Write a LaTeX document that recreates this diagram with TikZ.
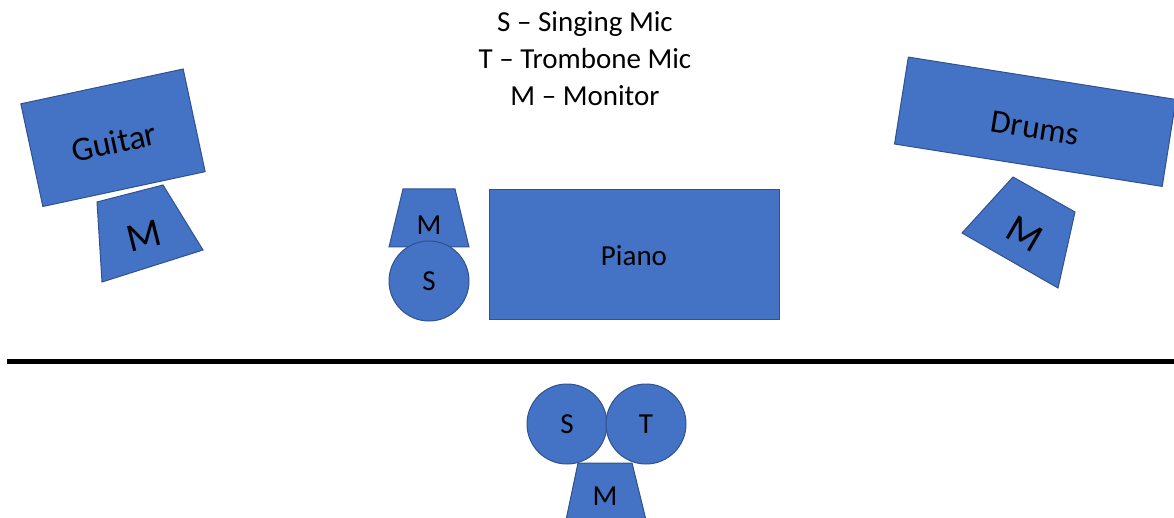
\documentclass[tikz,border=0pt]{standalone}
\usepackage{fontspec}
\setmainfont{Carlito}
\definecolor{fillblue}{HTML}{4472C4}
\definecolor{edgeblue}{HTML}{2F528F}
\begin{document}
\begin{tikzpicture}[x=1pt,y=-1pt,
  shp/.style={fill=fillblue,draw=edgeblue,line width=1pt},
  boxnode/.style={shp,rectangle,inner sep=0pt,font=\fontsize{30}{36}\selectfont},
  micnode/.style={shp,circle,minimum size=80pt,inner sep=0pt,font=\fontsize{29}{35}\selectfont},
  lbl/.style={inner sep=0pt,font=\fontsize{29}{35}\selectfont},
  titletext/.style={inner sep=0pt,anchor=base,font=\fontsize{29}{35}\selectfont}]
\useasboundingbox (0,0) rectangle (1174,518);
% legend
\node[titletext] (l1) at (585,32) {S – Singing Mic};
\node[titletext] (l2) at (585,69) {T – Trombone Mic};
\node[titletext] (l3) at (585,106) {M – Monitor};
% guitar
\node[boxnode,minimum width=166pt,minimum height=105pt,rotate=12.1] (guitar) at (113,137.75) {};
\node[lbl,rotate=12.1,font=\fontsize{34}{40}\selectfont] (guitartext) at (114,142) {Guitar};
\draw[shp] (97,202) -- (163,185) -- (203,250) -- (102,282) -- cycle;
\node[lbl,rotate=14,font=\fontsize{40}{46}\selectfont] (gm) at (144,236) {M};
% drums
\node[boxnode,minimum width=271pt,minimum height=88pt,rotate=-9] (drums) at (1035.25,121.75) {};
\node[lbl,rotate=-9,font=\fontsize{33}{40}\selectfont] (drumstext) at (1035,128) {Drums};
\draw[shp] (1013,177) -- (1075,212) -- (1058,288) -- (962,233) -- cycle;
\node[lbl,rotate=-30,font=\fontsize{40}{46}\selectfont] (dm) at (1025,234) {M};
% piano area
\node[boxnode,minimum width=290pt,minimum height=130pt,anchor=north west] (piano) at (489,189) {};
\node[lbl] (pianotext) at (634,256) {Piano};
\draw[shp] (403,189) -- (455,189) -- (469,247) -- (389,247) -- cycle;
\node[lbl] (pm) at (429,225) {M};
\node[micnode] (ps) at (429,281) {S};
% stage edge
\coordinate (edgeL) at (7,361);
\coordinate (edgeR) at (1174,361);
\draw[line width=5pt] (edgeL) -- (edgeR);
% front
\node[micnode] (fs) at (567,424) {S};
\node[micnode] (ft) at (646,424) {T};
\draw[shp] (578,463) -- (632,463) -- (646,520) -- (566,520) -- cycle;
\node[lbl] (fm) at (605,496) {M};
\end{tikzpicture}
\end{document}
